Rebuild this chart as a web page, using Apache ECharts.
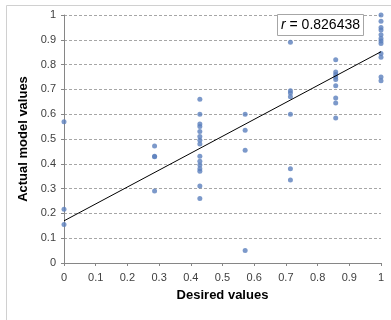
<!DOCTYPE html>
<html>
<head>
<meta charset="utf-8">
<script src="https://cdn.jsdelivr.net/npm/echarts@6/dist/echarts.min.js"></script>
<style>
  html, body { margin: 0; padding: 0; background: #fff; }
  #chart { width: 391px; height: 320px; }
</style>
</head>
<body>
<div id="chart"></div>
<script>
// desired value columns (k/7)
const xCols = [0, 2 / 7, 3 / 7, 4 / 7, 5 / 7, 6 / 7, 1]
// actual model values
const col0 = [0.57, 0.217, 0.155]
const col1 = [0.472, 0.43, 0.428, 0.29]
const col2 = [0.66, 0.60, 0.56, 0.55, 0.53, 0.51, 0.495, 0.48, 0.43, 0.41, 0.395, 0.38, 0.37, 0.31, 0.26]
const col3 = [0.60, 0.535, 0.455, 0.05]
const col4 = [0.89, 0.695, 0.685, 0.67, 0.60, 0.38, 0.335]
const col5 = [0.82, 0.77, 0.76, 0.75, 0.74, 0.715, 0.665, 0.645, 0.585]
const col6 = [1.0, 0.975, 0.95, 0.94, 0.92, 0.905, 0.895, 0.885, 0.845, 0.83, 0.75, 0.735]
const columns = [col0, col1, col2, col3, col4, col5, col6]

// trend line endpoints
const trendX = [0, 1]
const trendY = [0.17, 0.852]

const rLabel = '0.826438'

const points = []
columns.forEach((col, i) => {
  col.forEach(v => points.push([xCols[i], v]))
})

const chart = echarts.init(document.getElementById('chart'))

const tickLabel = {
  color: '#404040',
  fontSize: 11,
  fontFamily: 'Liberation Sans'
}
const axisName = {
  color: '#000',
  fontSize: 13,
  fontWeight: 'bold',
  fontFamily: 'Liberation Sans'
}

const option = {
  animation: false,
  backgroundColor: '#fff',
  grid: { left: 64, right: 10, top: 15, bottom: 57 },
  title: {
    text: '{i|r} = ' + rLabel,
    left: 277,
    top: 14,
    padding: [4, 4, 4, 4],
    borderColor: '#a6a6a6',
    borderWidth: 1,
    backgroundColor: '#fff',
    textStyle: {
      fontSize: 14,
      fontWeight: 'normal',
      color: '#000',
      fontFamily: 'Liberation Sans',
      rich: {
        i: { fontStyle: 'italic', fontSize: 14, fontFamily: 'Liberation Sans', color: '#000' }
      }
    }
  },
  graphic: [
    {
      type: 'rect',
      left: 4,
      top: 3,
      shape: { width: 400, height: 316 },
      style: { fill: 'none', stroke: '#d0d0d0', lineWidth: 1 },
      silent: true,
      z: -1
    }
  ],
  xAxis: {
    type: 'value',
    min: 0,
    max: 1,
    interval: 0.1,
    name: 'Desired values',
    nameLocation: 'middle',
    nameGap: 26,
    nameTextStyle: axisName,
    axisLine: { show: true, lineStyle: { color: '#868686', width: 1 } },
    axisTick: { show: true, length: 3, lineStyle: { color: '#868686' } },
    axisLabel: Object.assign({ margin: 9 }, tickLabel),
    splitLine: { show: false }
  },
  yAxis: {
    type: 'value',
    min: 0,
    max: 1,
    interval: 0.1,
    name: 'Actual model values',
    nameLocation: 'middle',
    nameGap: 25,
    nameTextStyle: axisName,
    axisLine: { show: true, lineStyle: { color: '#868686', width: 1 } },
    axisTick: { show: true, length: 3, lineStyle: { color: '#868686' } },
    axisLabel: Object.assign({ margin: 8 }, tickLabel),
    splitLine: { show: true, lineStyle: { color: '#a6a6a6', type: [3, 2], width: 1 } }
  },
  series: [
    {
      type: 'scatter',
      data: points,
      symbol: 'circle',
      symbolSize: 5,
      itemStyle: { color: '#5b80bd' },
      z: 3
    },
    {
      type: 'line',
      data: trendX.map((x, i) => [x, trendY[i]]),
      symbol: 'none',
      lineStyle: { color: '#000', width: 1 },
      z: 4
    }
  ]
}

chart.setOption(option)
</script>
</body>
</html>
